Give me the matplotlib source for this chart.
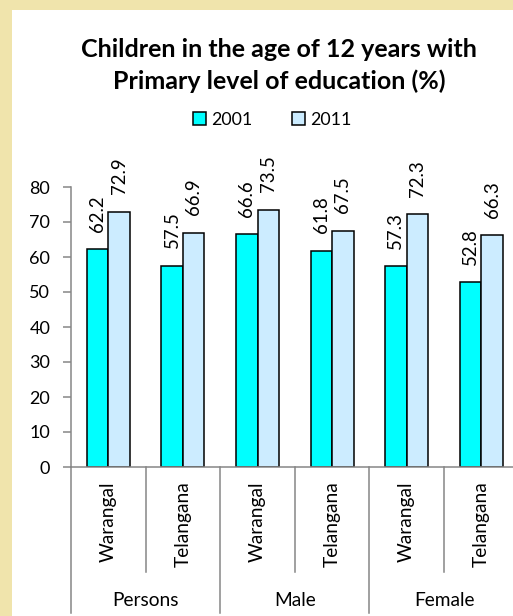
import matplotlib
matplotlib.use("Agg")
import matplotlib.pyplot as plt
from matplotlib.patches import Patch, Rectangle
from matplotlib.lines import Line2D
from matplotlib.transforms import blended_transform_factory
import numpy as np

plt.rcParams["font.family"] = ["Lato", "DejaVu Sans"]

groups = ["Persons", "Male", "Female"]
areas = ["Warangal", "Telangana", "Warangal", "Telangana", "Warangal", "Telangana"]
vals_2001 = [62.2, 57.5, 66.6, 61.8, 57.3, 52.8]
vals_2011 = [72.9, 66.9, 73.5, 67.5, 72.3, 66.3]
years = ["2001", "2011"]
colors = ["#00FFFF", "#CCECFF"]

W, H = 513, 616
fig = plt.figure(figsize=(W / 100, H / 100), dpi=100)
fig.patch.set_facecolor("#F0E4AC")
fig.patches.append(Rectangle((12 / W, 0), 1, 1 - 10 / H, transform=fig.transFigure,
                             facecolor="white", edgecolor="none", zorder=-5))

ax = fig.add_axes([71 / W, 149 / H, 447.6 / W, 280 / H])
ax.set_facecolor("none")

x = np.arange(len(areas))
bw = 0.288
ax.bar(x - bw / 2, vals_2001, bw, color=colors[0], edgecolor="black", linewidth=1.1)
ax.bar(x + bw / 2, vals_2011, bw, color=colors[1], edgecolor="black", linewidth=1.1)

for xi, v in zip(x - bw / 2, vals_2001):
    ax.annotate(f"{v:.1f}", (xi, v), xytext=(0, 12.5), textcoords="offset points",
                rotation=90, ha="center", va="bottom", fontsize=13.4)
for xi, v in zip(x + bw / 2, vals_2011):
    ax.annotate(f"{v:.1f}", (xi, v), xytext=(0, 12.5), textcoords="offset points",
                rotation=90, ha="center", va="bottom", fontsize=13.4)

ax.set_xlim(-0.5, len(areas) - 0.5)
ax.set_ylim(0, 80)
ax.set_yticks(range(0, 81, 10))
ax.set_xticks([])
for s in ["top", "right"]:
    ax.spines[s].set_visible(False)
ax.spines["left"].set_color("#868686")
ax.spines["bottom"].set_color("#868686")
ax.spines["left"].set_linewidth(1.1)
ax.spines["bottom"].set_linewidth(1.1)
ax.tick_params(axis="y", length=6, width=1.1, color="#868686", pad=9, labelsize=13)

# multi-level category axis
tr = blended_transform_factory(ax.transData, fig.transFigure)
for i, name in enumerate(areas):
    ax.text(i, 1 - 481 / H, name, transform=tr, rotation=90, ha="center", va="top",
            fontsize=13.8)
for j, g in enumerate(groups):
    ax.text(2 * j + 0.5, 1 - 600 / H, g, transform=tr, ha="center", va="center",
            fontsize=13.8)
for k in range(len(areas) + 1):
    b = k - 0.5
    y_end = 1 - 613 / H if k % 2 == 0 else 1 - 572 / H
    fig.add_artist(Line2D([b, b], [149 / H, y_end], transform=tr, color="#868686",
                          linewidth=1.1, clip_on=False))

fig.text(279 / W, 1 - 57 / H, "Children in the age of 12 years with", ha="center",
         va="baseline", fontsize=18, fontweight="bold")
fig.text(279 / W, 1 - 89 / H, "Primary level of education (%)", ha="center",
         va="baseline", fontsize=18, fontweight="bold")

handles = [Patch(facecolor=c, edgecolor="black", linewidth=1.1) for c in colors]
fig.legend(handles, years, loc="center", bbox_to_anchor=(272.5 / W, 1 - 120 / H), ncol=2,
           frameon=False, fontsize=12.8, handlelength=0.73, handleheight=0.73,
           handletextpad=0.28, columnspacing=2.25, borderpad=0)

fig.savefig("out.png", dpi=100, facecolor=fig.get_facecolor())
